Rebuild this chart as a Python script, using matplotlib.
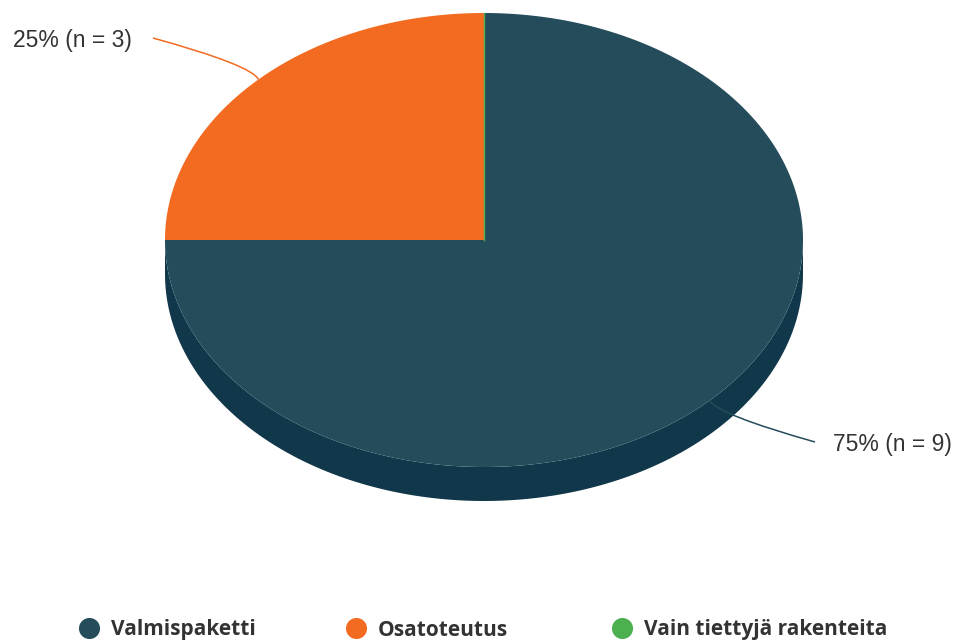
import numpy as np
import matplotlib.pyplot as plt
from matplotlib.path import Path
from matplotlib.patches import PathPatch

categories = ['Valmispaketti', 'Osatoteutus', 'Vain tiettyjä rakenteita']
counts = [9, 3, 0]
colors = ['#244c5a', '#f26b21', '#4caf50']
side_color = '#10374a'

# pie geometry in pixels (y grows downwards)
cx, cy = 484, 240
rx, ry = 319, 227
depth = 34

fig = plt.figure(figsize=(9.57, 6.41), dpi=100)
ax = fig.add_axes([0, 0, 1, 1])
ax.set_xlim(0, 957)
ax.set_ylim(641, 0)
ax.axis('off')


def ell(theta, dy=0.0):
    return cx + rx * np.cos(theta), cy - ry * np.sin(theta) + dy


# side wall of the front half
t = np.linspace(np.pi, 2 * np.pi, 200)
x0, y0 = ell(t)
x1, y1 = ell(t[::-1], depth)
ax.fill(np.r_[x0, x1], np.r_[y0, y1], color=side_color, lw=0, zorder=1)

# slices, clockwise from 12 o'clock
total = sum(counts)
start = np.pi / 2
mids = []
for n, c in zip(counts, colors):
    span = 2 * np.pi * n / total
    end = start - span
    mids.append(start - span / 2)
    if n == 0:
        ax.plot(*zip((cx, cy), ell(start)), color=c, lw=1, zorder=3)
    else:
        t = np.linspace(start, end, 200)
        xs, ys = ell(t)
        ax.fill(np.r_[cx, xs], np.r_[cy, ys], color=c, lw=0, zorder=2)
    start = end

# data labels with connectors: (line end x, y, bend dx, dy, text x, text y, ha)
label_pos = {0: (815, 442, 8, 14, 833, 444, 'left'),
             1: (153, 38, -6, -14, 132, 41, 'right')}
for i, (ex, ey, bdx, bdy, tx, ty, ha) in label_pos.items():
    px, py = ell(mids[i])
    path = Path([(px, py), (px + bdx, py + bdy), (ex, ey)],
                [Path.MOVETO, Path.CURVE3, Path.CURVE3])
    ax.add_patch(PathPatch(path, fc='none', ec=colors[i], lw=1.1, zorder=4))
    pct = 100 * counts[i] / total
    ax.text(tx, ty, f'{pct:.0f}% (n = {counts[i]})', ha=ha, va='center',
            fontsize=16.5, color='#333333', family='Liberation Sans')

# legend
for i, (name, c) in enumerate(zip(categories, colors)):
    lx = 89 + i * 266.5
    ax.scatter([lx], [628], s=230, color=c, lw=0, zorder=5)
    ax.text(lx + 22, 630, name, ha='left', va='center', fontsize=15,
            fontweight='bold', color='#333333', family='Open Sans')

fig.savefig('out.png', dpi=100)
